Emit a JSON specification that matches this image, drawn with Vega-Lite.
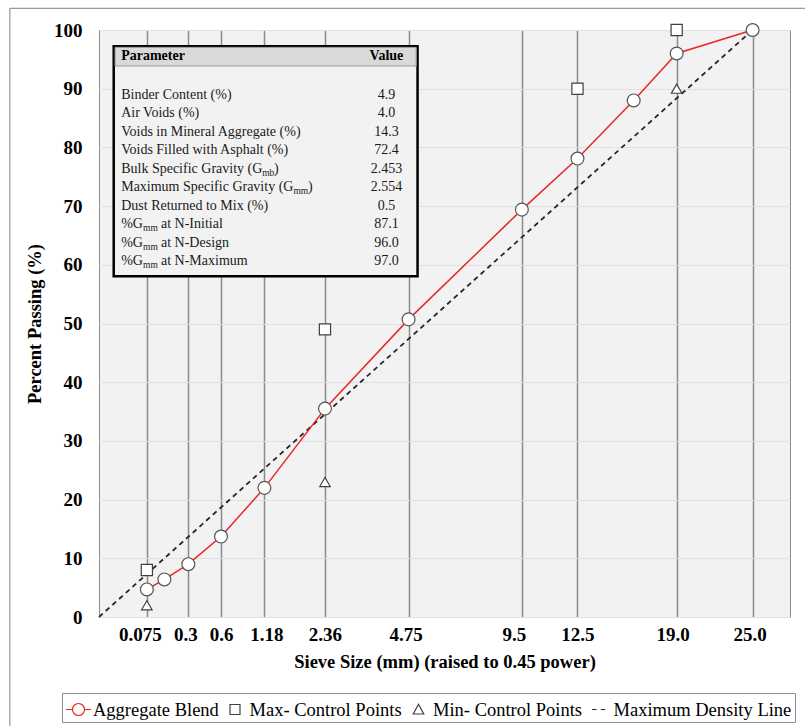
{
  "$schema": "https://vega.github.io/schema/vega-lite/v6.json",
  "width": 691,
  "height": 587,
  "autosize": {"type": "none"},
  "padding": {"left": 99, "top": 30, "right": 15, "bottom": 109},
  "background": "white",
  "config": {
    "view": {"fill": "#f2f2f2", "stroke": "#8c8c8c", "strokeWidth": 1},
    "font": "Liberation Serif",
    "text": {"font": "Liberation Serif"},
    "axis": {"labelFont": "Liberation Serif", "titleFont": "Liberation Serif", "labelColor": "black", "titleColor": "black"},
    "legend": {"labelFont": "Liberation Serif", "labelFontSize": 18.5, "labelColor": "black", "labelLimit": 400, "symbolSize": 625, "symbolStrokeWidth": 1.2, "strokeColor": "#8c8c8c", "fillColor": "white", "padding": 3, "columnPadding": 2.5, "labelOffset": 1}
  },
  "datasets": {
    "one": [{"k": 1}],
    "mdl": [{"sieve": 0, "pass": 0}, {"sieve": 25, "pass": 100}],
    "blend": [
      {"sieve": 0.075, "pass": 4.7},
      {"sieve": 0.15, "pass": 6.4},
      {"sieve": 0.3, "pass": 9.0},
      {"sieve": 0.6, "pass": 13.7},
      {"sieve": 1.18, "pass": 22.0},
      {"sieve": 2.36, "pass": 35.5},
      {"sieve": 4.75, "pass": 50.7},
      {"sieve": 9.5, "pass": 69.4},
      {"sieve": 12.5, "pass": 78.1},
      {"sieve": 16, "pass": 88.0},
      {"sieve": 19, "pass": 96.0},
      {"sieve": 25, "pass": 100}
    ],
    "control": [
      {"sieve": 0.075, "type": "Max", "pass": 8},
      {"sieve": 2.36, "type": "Max", "pass": 49},
      {"sieve": 12.5, "type": "Max", "pass": 90},
      {"sieve": 19, "type": "Max", "pass": 100},
      {"sieve": 0.075, "type": "Min", "pass": 2},
      {"sieve": 2.36, "type": "Min", "pass": 23},
      {"sieve": 19, "type": "Min", "pass": 90}
    ],
    "legend": [
      {"series": "Aggregate Blend"},
      {"series": "Max- Control Points"},
      {"series": "Min- Control Points"},
      {"series": "Maximum Density Line"}
    ],
    "table": [
      {"row": 1, "pre": "Binder Content (%)", "sub": "", "post": "", "value": "4.9"},
      {"row": 2, "pre": "Air Voids (%)", "sub": "", "post": "", "value": "4.0"},
      {"row": 3, "pre": "Voids in Mineral Aggregate (%)", "sub": "", "post": "", "value": "14.3"},
      {"row": 4, "pre": "Voids Filled with Asphalt (%)", "sub": "", "post": "", "value": "72.4"},
      {"row": 5, "pre": "Bulk Specific Gravity (G", "sub": "mb", "post": ")", "value": "2.453"},
      {"row": 6, "pre": "Maximum Specific Gravity (G", "sub": "mm", "post": ")", "value": "2.554"},
      {"row": 7, "pre": "Dust Returned to Mix (%)", "sub": "", "post": "", "value": "0.5"},
      {"row": 8, "pre": "%G", "sub": "mm", "post": "at N-Initial", "value": "87.1"},
      {"row": 9, "pre": "%G", "sub": "mm", "post": "at N-Design", "value": "96.0"},
      {"row": 10, "pre": "%G", "sub": "mm", "post": "at N-Maximum", "value": "97.0"}
    ]
  },
  "layer": [
    {
      "layer": [
        {
          "data": {"name": "mdl"},
          "mark": {"type": "line", "stroke": "#262626", "strokeDash": [5, 4], "strokeWidth": 1.8},
          "encoding": {
            "x": {
              "field": "sieve", "type": "quantitative",
              "scale": {"type": "pow", "exponent": 0.45, "domain": [0, 28.29], "nice": false, "zero": false},
              "axis": {
                "values": [0.075, 0.3, 0.6, 1.18, 2.36, 4.75, 9.5, 12.5, 19, 25],
                "labelExpr": "datum.value == 19 ? '19.0' : datum.value == 25 ? '25.0' : '' + datum.value",
                "labelOffset": {"expr": "datum.value == 0.075 ? -7 : datum.value == 0.3 ? -3 : datum.value == 1.18 ? 2 : datum.value == 4.75 ? -3 : datum.value == 9.5 ? -8 : datum.value == 19 ? -4 : datum.value == 25 ? -3 : 0"},
                "title": "Sieve Size (mm) (raised to 0.45 power)",
                "labelFontSize": 19, "labelFontWeight": "bold", "labelPadding": 8,
                "titleFontSize": 18.5, "titleFontWeight": "bold", "titlePadding": 8,
                "ticks": false, "domain": false,
                "grid": true, "gridColor": "#8c8c8c", "gridWidth": 1.5
              }
            },
            "y": {
              "field": "pass", "type": "quantitative",
              "scale": {"domain": [0, 100], "nice": false},
              "axis": {
                "values": [0, 10, 20, 30, 40, 50, 60, 70, 80, 90, 100],
                "title": "Percent Passing (%)",
                "labelFontSize": 19, "labelFontWeight": "bold", "labelPadding": 17,
                "titleFontSize": 18.5, "titleFontWeight": "bold", "titlePadding": 9,
                "ticks": false, "domain": false,
                "grid": true, "gridColor": "#e0e0e0", "gridWidth": 1
              }
            }
          }
        },
        {
          "data": {"name": "blend"},
          "mark": {"type": "line", "stroke": "#e8262b", "strokeWidth": 1.5},
          "encoding": {
            "x": {"field": "sieve", "type": "quantitative"},
            "y": {"field": "pass", "type": "quantitative"}
          }
        },
        {
          "data": {"name": "blend"},
          "mark": {"type": "point", "shape": "circle", "size": 165, "filled": true, "fill": "white", "stroke": "#555555", "strokeWidth": 1.2, "opacity": 1},
          "encoding": {
            "x": {"field": "sieve", "type": "quantitative"},
            "y": {"field": "pass", "type": "quantitative"}
          }
        },
        {
          "data": {"name": "control"},
          "transform": [{"filter": "datum.type == 'Max'"}],
          "mark": {"type": "point", "shape": "square", "size": 125, "filled": true, "fill": "white", "stroke": "#404040", "strokeWidth": 1.2, "opacity": 1},
          "encoding": {
            "x": {"field": "sieve", "type": "quantitative"},
            "y": {"field": "pass", "type": "quantitative"}
          }
        },
        {
          "data": {"name": "control"},
          "transform": [{"filter": "datum.type == 'Min'"}],
          "mark": {"type": "point", "shape": "triangle-up", "size": 110, "filled": true, "fill": "white", "stroke": "#404040", "strokeWidth": 1.2, "opacity": 1},
          "encoding": {
            "x": {"field": "sieve", "type": "quantitative"},
            "y": {"field": "pass", "type": "quantitative"}
          }
        },
        {
          "data": {"name": "legend"},
          "mark": {"type": "point", "filled": false, "opacity": 1, "size": 625, "strokeWidth": 1.2},
          "encoding": {
            "x": {"field": "sieve", "type": "quantitative"},
            "y": {"field": "pass", "type": "quantitative"},
            "color": {
              "field": "series", "type": "nominal",
              "scale": {"domain": ["Aggregate Blend", "Max- Control Points", "Min- Control Points", "Maximum Density Line"], "range": ["#e8262b", "#404040", "#404040", "#262626"]},
              "legend": {"orient": "none", "legendX": -37, "legendY": 663, "direction": "horizontal", "title": null, "labelFont": "Liberation Serif", "labelFontSize": 18.5, "labelLimit": 400}
            },
            "shape": {
              "field": "series", "type": "nominal",
              "scale": {"domain": ["Aggregate Blend", "Max- Control Points", "Min- Control Points", "Maximum Density Line"], "range": [
                "M-1,0L-0.48,0M0.48,0L1,0M-0.48,0A0.48,0.48,0,1,1,0.48,0A0.48,0.48,0,1,1,-0.48,0",
                "M-0.4,-0.4L0.4,-0.4L0.4,0.4L-0.4,0.4Z",
                "M0,-0.42L0.42,0.36L-0.42,0.36Z",
                "M-0.55,0L-0.2,0M0.15,0L0.5,0"
              ]},
              "legend": {"orient": "none", "legendX": -37, "legendY": 663, "direction": "horizontal", "title": null, "labelFont": "Liberation Serif", "labelFontSize": 18.5, "labelLimit": 400}
            }
          }
        }
      ]
    },
    {
      "layer": [
        {
          "data": {"name": "one"},
          "mark": {"type": "rect", "fillOpacity": 0, "stroke": "#808080", "strokeWidth": 1},
          "encoding": {
            "x": {"datum": -0.129, "type": "quantitative", "scale": {"domain": [0, 1], "nice": false, "zero": false}, "axis": null},
            "x2": {"datum": 1.3},
            "y": {"datum": -3.66, "type": "quantitative", "scale": {"domain": [-2.488, 29.21], "reverse": true, "nice": false, "zero": false}, "axis": null},
            "y2": {"datum": 40}
          }
        },
        {
          "data": {"name": "one"},
          "mark": {"type": "rect", "fill": "#f2f2f2", "stroke": "black", "strokeWidth": 2.5},
          "encoding": {
            "x": {"datum": 0.0213, "type": "quantitative"},
            "x2": {"datum": 0.461},
            "y": {"datum": -1.608, "type": "quantitative"},
            "y2": {"datum": 10.81}
          }
        },
        {
          "data": {"name": "one"},
          "mark": {"type": "rect", "fill": "#d9d9d9", "stroke": "#9a9a9a", "strokeWidth": 1},
          "encoding": {
            "x": {"datum": 0.0233, "type": "quantitative"},
            "x2": {"datum": 0.459},
            "y": {"datum": -1.55, "type": "quantitative"},
            "y2": {"datum": -0.544}
          }
        },
        {
          "data": {"name": "one"},
          "mark": {"type": "text", "text": "Parameter", "align": "left", "baseline": "middle", "fontSize": 14, "fontWeight": "bold", "color": "black"},
          "encoding": {
            "x": {"datum": 0.0321, "type": "quantitative"},
            "y": {"datum": -1.1, "type": "quantitative"}
          }
        },
        {
          "data": {"name": "one"},
          "mark": {"type": "text", "text": "Value", "align": "center", "baseline": "middle", "fontSize": 14, "fontWeight": "bold", "color": "black"},
          "encoding": {
            "x": {"datum": 0.416, "type": "quantitative"},
            "y": {"datum": -1.1, "type": "quantitative"}
          }
        },
        {
          "data": {"name": "table"},
          "mark": {"type": "text", "align": "left", "baseline": "middle", "fontSize": 14, "color": "#1a1a1a"},
          "encoding": {
            "x": {"datum": 0.0321, "type": "quantitative"},
            "y": {"field": "row", "type": "quantitative"},
            "text": {"field": "pre"}
          }
        },
        {
          "data": {"name": "table"},
          "mark": {"type": "text", "align": "center", "baseline": "middle", "fontSize": 14, "color": "#1a1a1a"},
          "encoding": {
            "x": {"datum": 0.416, "type": "quantitative"},
            "y": {"field": "row", "type": "quantitative"},
            "text": {"field": "value"}
          }
        },
        {
          "data": {"name": "table"},
          "transform": [{"filter": "datum.row == 5"}],
          "mark": {"type": "text", "align": "left", "baseline": "middle", "fontSize": 9.5, "dy": 4, "color": "#1a1a1a"},
          "encoding": {
            "x": {"datum": 0.2362, "type": "quantitative"},
            "y": {"field": "row", "type": "quantitative"},
            "text": {"field": "sub"}
          }
        },
        {
          "data": {"name": "table"},
          "transform": [{"filter": "datum.row == 5"}],
          "mark": {"type": "text", "align": "left", "baseline": "middle", "fontSize": 14, "color": "#1a1a1a"},
          "encoding": {
            "x": {"datum": 0.2534, "type": "quantitative"},
            "y": {"field": "row", "type": "quantitative"},
            "text": {"field": "post"}
          }
        },
        {
          "data": {"name": "table"},
          "transform": [{"filter": "datum.row == 6"}],
          "mark": {"type": "text", "align": "left", "baseline": "middle", "fontSize": 9.5, "dy": 4, "color": "#1a1a1a"},
          "encoding": {
            "x": {"datum": 0.2813, "type": "quantitative"},
            "y": {"field": "row", "type": "quantitative"},
            "text": {"field": "sub"}
          }
        },
        {
          "data": {"name": "table"},
          "transform": [{"filter": "datum.row == 6"}],
          "mark": {"type": "text", "align": "left", "baseline": "middle", "fontSize": 14, "color": "#1a1a1a"},
          "encoding": {
            "x": {"datum": 0.3023, "type": "quantitative"},
            "y": {"field": "row", "type": "quantitative"},
            "text": {"field": "post"}
          }
        },
        {
          "data": {"name": "table"},
          "transform": [{"filter": "datum.row >= 8"}],
          "mark": {"type": "text", "align": "left", "baseline": "middle", "fontSize": 9.5, "dy": 4, "color": "#1a1a1a"},
          "encoding": {
            "x": {"datum": 0.0637, "type": "quantitative"},
            "y": {"field": "row", "type": "quantitative"},
            "text": {"field": "sub"}
          }
        },
        {
          "data": {"name": "table"},
          "transform": [{"filter": "datum.row >= 8"}],
          "mark": {"type": "text", "align": "left", "baseline": "middle", "fontSize": 14, "color": "#1a1a1a"},
          "encoding": {
            "x": {"datum": 0.0897, "type": "quantitative"},
            "y": {"field": "row", "type": "quantitative"},
            "text": {"field": "post"}
          }
        }
      ]
    }
  ],
  "resolve": {"scale": {"x": "independent", "y": "independent"}}
}
